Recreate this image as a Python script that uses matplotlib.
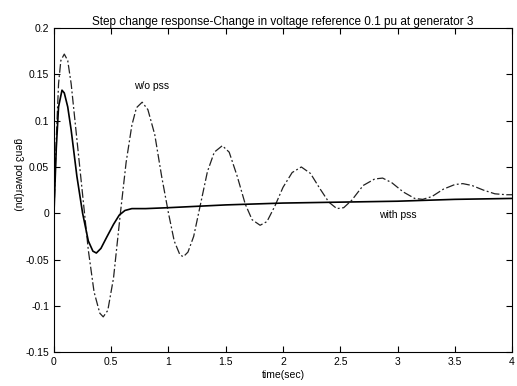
import matplotlib
matplotlib.use("Agg")
import matplotlib.pyplot as plt

plt.rcParams['font.family'] = ['Liberation Sans', 'DejaVu Sans']

# w/o pss (dash-dot curve)
t_wo = [0, 0.02, 0.04, 0.06, 0.09, 0.12, 0.15, 0.2, 0.25, 0.3, 0.35, 0.4,
        0.43, 0.47, 0.52, 0.58, 0.63, 0.68, 0.72, 0.77, 0.82, 0.88, 0.94,
        1.0, 1.05, 1.1, 1.13, 1.17, 1.22, 1.28, 1.34, 1.4, 1.47, 1.53, 1.6,
        1.67, 1.73, 1.8, 1.86, 1.93, 2.0, 2.08, 2.16, 2.24, 2.32, 2.4, 2.47,
        2.53, 2.6, 2.7, 2.8, 2.87, 2.95, 3.05, 3.15, 3.22, 3.3, 3.4, 3.5,
        3.57, 3.65, 3.75, 3.85, 3.95, 4.0]
p_wo = [0, 0.08, 0.14, 0.165, 0.172, 0.165, 0.14, 0.08, 0.02, -0.04,
        -0.085, -0.108, -0.112, -0.105, -0.07, 0.0, 0.055, 0.095, 0.114,
        0.12, 0.112, 0.085, 0.04, 0.0, -0.03, -0.045, -0.047, -0.042,
        -0.025, 0.01, 0.045, 0.066, 0.073, 0.066, 0.04, 0.01, -0.007,
        -0.013, -0.009, 0.008, 0.028, 0.044, 0.05, 0.043, 0.027, 0.012,
        0.005, 0.006, 0.014, 0.03, 0.037, 0.038, 0.033, 0.023, 0.016,
        0.015, 0.018, 0.026, 0.031, 0.032, 0.03, 0.025, 0.021, 0.02, 0.02]

# with pss (solid curve)
t_w = [0, 0.02, 0.04, 0.07, 0.09, 0.12, 0.15, 0.2, 0.25, 0.3, 0.34, 0.37,
       0.41, 0.46, 0.52, 0.57, 0.62, 0.68, 0.8, 1.0, 1.5, 2.0, 2.5, 3.0,
       3.5, 4.0]
p_w = [0, 0.07, 0.115, 0.133, 0.13, 0.115, 0.09, 0.04, 0.0, -0.03, -0.041,
       -0.043, -0.038, -0.026, -0.012, -0.002, 0.003, 0.005, 0.005, 0.006,
       0.009, 0.011, 0.012, 0.013, 0.015, 0.016]

xticks = [0, 0.5, 1, 1.5, 2, 2.5, 3, 3.5, 4]
yticks = [-0.15, -0.1, -0.05, 0, 0.05, 0.1, 0.15, 0.2]

fig = plt.figure(figsize=(5.17, 3.86), dpi=100)
ax = fig.add_axes([0.1044, 0.088, 0.886, 0.839])

ax.plot(t_wo, p_wo, color='#222222', linestyle='-.', linewidth=0.9,
        dashes=(7, 2, 1.5, 2))
ax.plot(t_w, p_w, color='black', linestyle='-', linewidth=1.2)

ax.text(0.85, 0.137, 'w/o pss', fontsize=7.5, ha='center', va='center')
ax.text(3.0, 0.003, 'with pss', fontsize=7.5, ha='center', va='top')

ax.set_xlim(0, 4)
ax.set_ylim(-0.15, 0.2)
ax.set_xticks(xticks)
ax.set_xticklabels(['0', '0.5', '1', '1.5', '2', '2.5', '3', '3.5', '4'])
ax.set_yticks(yticks)
ax.set_yticklabels(['-0.15', '-0.1', '-0.05', '0', '0.05', '0.1', '0.15', '0.2'])
ax.tick_params(direction='in', top=True, right=True, labelsize=7.5, length=4)

ax.set_xlabel('time(sec)', fontsize=7.5, labelpad=2)
ax.set_ylabel('gen3 power(pu)', fontsize=7.5, rotation=-90, labelpad=8)
ax.yaxis.set_label_coords(-0.09, 0.55)
ax.set_title('Step change response-Change in voltage reference 0.1 pu at generator 3',
             fontsize=8.5, pad=2)

fig.savefig('out.png', dpi=100)
